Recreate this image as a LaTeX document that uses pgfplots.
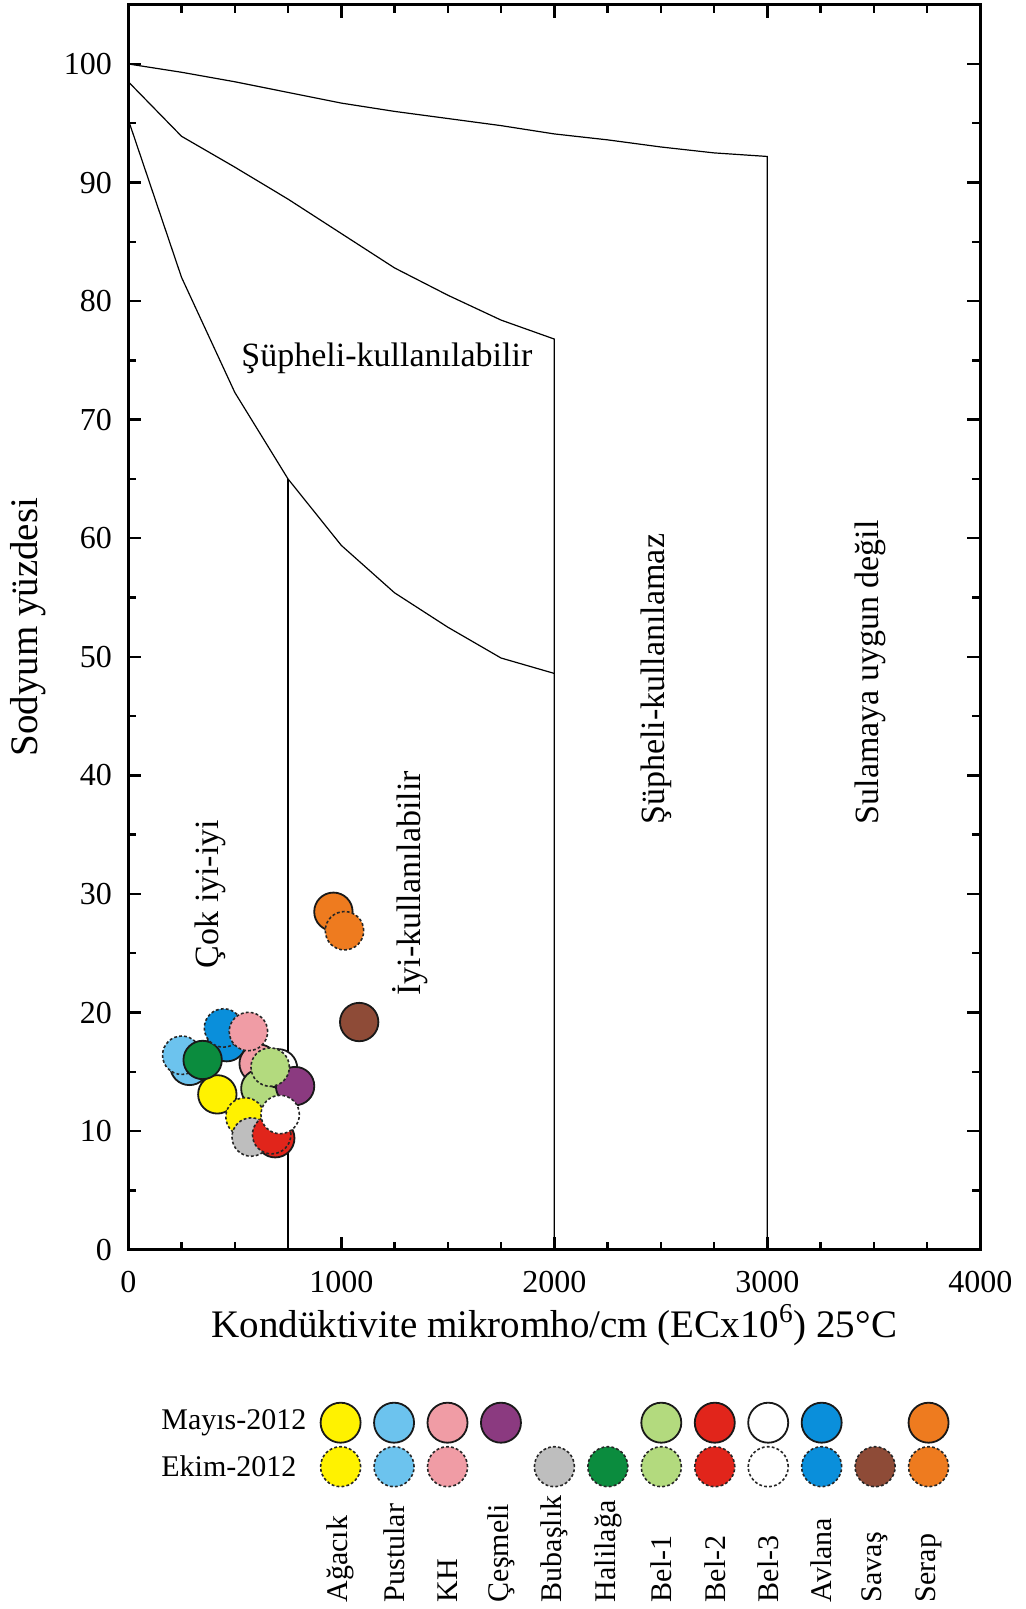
\documentclass[border=0pt]{standalone}
\usepackage{pgfplots}
\pgfplotsset{compat=1.18}
\usepackage{fontspec}
\setmainfont{Liberation Serif}
\definecolor{cyel}{HTML}{FFF200}
\definecolor{clb}{HTML}{6CC3EE}
\definecolor{cpink}{HTML}{F09CA5}
\definecolor{cpur}{HTML}{8B3A80}
\definecolor{cgrey}{HTML}{BEBEBE}
\definecolor{cdg}{HTML}{0B8C3E}
\definecolor{clg}{HTML}{B3DA7E}
\definecolor{cred}{HTML}{E1251B}
\definecolor{cblue}{HTML}{0A8FDB}
\definecolor{cbrown}{HTML}{8E4B37}
\definecolor{corange}{HTML}{EE7B1F}
\pgfplotsset{
  may/.style={only marks, mark=*, mark size=9.6pt, mark options={solid, fill=#1, draw=black!90, line width=0.9pt}},
  ek/.style={only marks, mark=*, mark size=9.6pt, mark options={fill=#1, draw=black!85, line width=0.8pt, dash pattern=on 1.4pt off 1.1pt}},
  lmay/.style={only marks, mark=*, mark size=10pt, mark options={solid, fill=#1, draw=black!90, line width=0.9pt}},
  lek/.style={only marks, mark=*, mark size=10pt, mark options={fill=#1, draw=black!85, line width=0.8pt, dash pattern=on 1.4pt off 1.1pt}},
}
\begin{document}
\begin{tikzpicture}
\path[use as bounding box] (-64.15pt,-179.65pt) rectangle (448.35pt,624.85pt);
\begin{axis}[
  scale only axis, width=426pt, height=622.5pt,
  xmin=0, xmax=4000, ymin=0, ymax=105,
  xtick={0,1000,2000,3000,4000}, ytick={0,10,...,100},
  minor x tick num=3, minor y tick num=1,
  tick align=inside, tick pos=both,
  major tick length=6.5pt, minor tick length=4pt,
  every tick/.style={black, line width=1.2pt},
  axis line style={line width=1.4pt},
  /pgf/number format/assume math mode=true,
  /pgf/number format/1000 sep={},
  ticklabel style={font=\fontsize{16}{19}\selectfont},
  yticklabel style={xshift=-4.7pt},
  xticklabel style={yshift=-7.3pt},
  xlabel={Kondüktivite mikromho/cm (ECx10\textsuperscript{6}) 25°C},
  ylabel={Sodyum yüzdesi},
  label style={font=\fontsize{19.5}{23}\selectfont},
  xlabel style={at={(axis description cs:0.5,0)}, anchor=base, yshift=-44pt},
  ylabel style={at={(axis description cs:-0.117,0.5)}, anchor=center},
  clip=false,
]
% boundary lines
\addplot[black, line width=0.6pt] coordinates {(0,100)(250,99.3)(500,98.5)(750,97.6)(1000,96.7)(1250,96.0)(1500,95.4)(1750,94.8)(2000,94.1)(2250,93.6)(2500,93.0)(2750,92.5)(3000,92.2)(3000,0)};
\addplot[black, line width=0.6pt] coordinates {(0,98.5)(250,93.9)(500,91.3)(750,88.6)(1000,85.7)(1250,82.8)(1500,80.5)(1750,78.4)(2000,76.8)(2000,0)};
\addplot[black, line width=0.6pt] coordinates {(0,95.3)(250,82.0)(500,72.3)(750,65.0)(1000,59.4)(1250,55.4)(1500,52.5)(1750,49.9)(2000,48.6)};
\addplot[black, line width=0.6pt] coordinates {(750,65.0)(750,0)};
% region labels
\node[font=\fontsize{17}{20}\selectfont] at (axis cs:1214,75.2) {Şüpheli-kullanılabilir};
\node[font=\fontsize{17}{20}\selectfont, rotate=90] at (axis cs:385,30.0) {Çok iyi-iyi};
\node[font=\fontsize{17}{20}\selectfont, rotate=90] at (axis cs:1325,30.9) {İyi-kullanılabilir};
\node[font=\fontsize{17}{20}\selectfont, rotate=90] at (axis cs:2481,48.1) {Şüpheli-kullanılamaz};
\node[font=\fontsize{17}{20}\selectfont, rotate=90] at (axis cs:3484,48.7) {Sulamaya uygun değil};
% Mayis-2012
\addplot[may=cyel] coordinates {(418,13.1)};
\addplot[may=clb] coordinates {(287,15.5)};
\addplot[may=cpink] coordinates {(612,15.7)};
\addplot[may=clg] coordinates {(620,13.6)};
\addplot[may=white] coordinates {(703,15.3)};
\addplot[may=cpur] coordinates {(783,13.8)};
\addplot[may=cred] coordinates {(690,9.4)};
\addplot[may=cblue] coordinates {(462,17.5)};
\addplot[may=corange] coordinates {(963,28.5)};
% Ekim-2012
\addplot[ek=clb] coordinates {(251,16.4)};
\addplot[may=cdg] coordinates {(349,16.0)};
\addplot[ek=cblue] coordinates {(447,18.7)};
\addplot[ek=cpink] coordinates {(564,18.4)};
\addplot[ek=cyel] coordinates {(548,11.2)};
\addplot[ek=cgrey] coordinates {(577,9.5)};
\addplot[ek=cred] coordinates {(673,9.7)};
\addplot[ek=clg] coordinates {(666,15.4)};
\addplot[ek=white] coordinates {(713,11.4)};
\addplot[may=cbrown] coordinates {(1084,19.2)};
\addplot[ek=corange] coordinates {(1015,26.9)};
\end{axis}
% legend
\begin{axis}[
  at={(0,0)}, anchor=north west,
  scale only axis, width=426pt, height=180pt,
  xmin=-3.972, xmax=11.968, ymin=-360, ymax=0,
  hide axis, clip=false,
]
\addplot[lmay=cyel] coordinates {(0,-173)};
\addplot[lmay=clb] coordinates {(1,-173)};
\addplot[lmay=cpink] coordinates {(2,-173)};
\addplot[lmay=cpur] coordinates {(3,-173)};
\addplot[lmay=clg] coordinates {(6,-173)};
\addplot[lmay=cred] coordinates {(7,-173)};
\addplot[lmay=white] coordinates {(8,-173)};
\addplot[lmay=cblue] coordinates {(9,-173)};
\addplot[lmay=corange] coordinates {(11,-173)};
\addplot[lek=cyel] coordinates {(0,-217)};
\addplot[lek=clb] coordinates {(1,-217)};
\addplot[lek=cpink] coordinates {(2,-217)};
\addplot[lek=cgrey] coordinates {(4,-217)};
\addplot[lek=cdg] coordinates {(5,-217)};
\addplot[lek=clg] coordinates {(6,-217)};
\addplot[lek=cred] coordinates {(7,-217)};
\addplot[lek=white] coordinates {(8,-217)};
\addplot[lek=cblue] coordinates {(9,-217)};
\addplot[lek=cbrown] coordinates {(10,-217)};
\addplot[lek=corange] coordinates {(11,-217)};
\node[font=\fontsize{15}{18}\selectfont, anchor=west, inner sep=0pt] at (axis cs:-3.36,-173) {Mayıs-2012};
\node[font=\fontsize{15}{18}\selectfont, anchor=west, inner sep=0pt] at (axis cs:-3.36,-217) {Ekim-2012};
\foreach \i/\t in {0/Ağacık,1/Pustular,2/KH,3/Çeşmeli,4/Bubaşlık,5/Halilağa,6/Bel-1,7/Bel-2,8/Bel-3,9/Avlana,10/Savaş,11/Serap}{
  \edef\tmp{\noexpand\node[font=\noexpand\fontsize{15}{18}\noexpand\selectfont, rotate=90, anchor=west, inner sep=0pt] at (axis cs:\i,-353) {\t};}
  \tmp
}
\end{axis}
\end{tikzpicture}
\end{document}
